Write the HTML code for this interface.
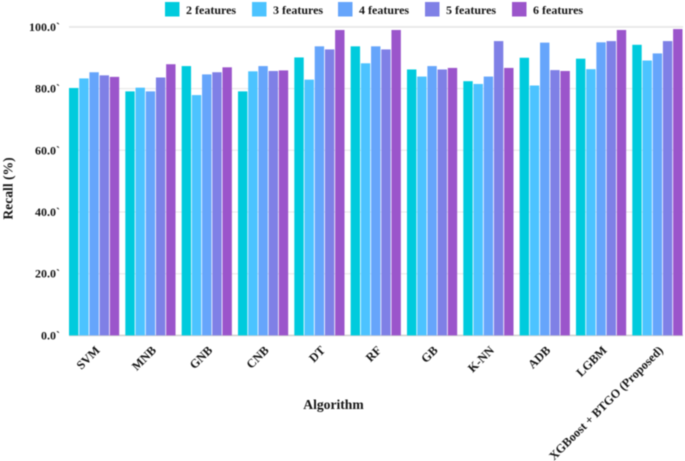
<!DOCTYPE html>
<html>
<head>
<meta charset="utf-8">
<style>
html,body{margin:0;padding:0;background:#fff;width:685px;height:461px;overflow:hidden}
svg{display:block;filter:blur(0.55px)}
text{font-family:"Liberation Serif",serif;font-weight:bold;fill:#141414}
</style>
</head>
<body>
<svg id="chart" width="685" height="461" viewBox="0 0 685 461" xmlns="http://www.w3.org/2000/svg"></svg>
<script>
const categories = ["SVM","MNB","GNB","CNB","DT","RF","GB","K-NN","ADB","LGBM","XGBoost + BTGO (Proposed)"];
const seriesNames = ["2 features","3 features","4 features","5 features","6 features"];
const seriesColors = ["#00cbdd","#4cc3ff","#66a5fb","#7f80e6","#9b55cb"];
const features2 = [80.2,79.1,87.3,79.1,90.1,93.7,86.2,82.4,90.0,89.7,94.2];
const features3 = [83.3,80.3,77.9,85.6,82.9,88.2,83.9,81.5,81.0,86.3,89.1];
const features4 = [85.3,79.1,84.6,87.3,93.7,93.7,87.3,83.9,94.9,95.0,91.4];
const features5 = [84.3,83.6,85.3,85.7,92.7,92.7,86.2,95.4,86.0,95.4,95.4];
const features6 = [83.8,87.9,86.9,85.9,99.0,99.0,86.7,86.7,85.7,99.0,99.3];
const yTicks = [0,20,40,60,80,100];
const yTickLabels = ["0.0`","20.0`","40.0`","60.0`","80.0`","100.0`"];
const series = [features2,features3,features4,features5,features6];

const svg = document.getElementById('chart');
const NS = 'http://www.w3.org/2000/svg';
function make(tag, attrs, text){
  const el = document.createElementNS(NS, tag);
  for (const k in attrs) el.setAttribute(k, attrs[k]);
  if (text !== undefined) el.textContent = text;
  svg.appendChild(el);
  return el;
}
const plotLeft = 69, plotRight = 683, yZero = 335.4, yFull = 26.9;
const groupStep = 56.33, barStep = 10.2;
function yScale(v){ return yZero - (v / 100) * (yZero - yFull); }
function xGroup(i){ return plotLeft + i * groupStep; }

yTicks.forEach(function(t, i){
  const y = yScale(t);
  const grid = make('line', {x1:plotLeft, x2:plotRight, y1:y, y2:y, stroke: i === 0 ? '#d2d2d2' : '#e6e6e6', 'stroke-width': (i === 0 || i === yTicks.length - 1) ? 1.6 : 1});
  
  
  const label = make('text', {x:60, y:y + 4, 'text-anchor':'end', 'font-size':12}, yTickLabels[i]);
  
  
});

series.forEach(function(values, s){
  values.forEach(function(v, i){
    const y = yScale(v);
    const bar = make('rect', {x:xGroup(i) + s * barStep, y:y, width:barStep - 0.8, height:yZero - y, fill:seriesColors[s]});
    
    
  });
});

categories.forEach(function(c, i){
  const cx = xGroup(i) + 2.5 * barStep + 6;
  const label = make('text', {x:cx, y:351, 'text-anchor':'end', 'font-size':12.2, transform:'rotate(-45 ' + cx + ' 351)'}, c);
  
  
});

const legendX = [165,252,338,425,512];
seriesNames.forEach(function(n, s){
  const swatch = make('rect', {x:legendX[s], y:2, width:14.5, height:14.5, fill:seriesColors[s]});
  
  
  const label = make('text', {x:legendX[s] + 21, y:14, 'font-size':12}, n);
  
  
});

const xTitle = make('text', {x:333.5, y:409, 'text-anchor':'middle', 'font-size':13.6}, 'Algorithm');


const yTitle = make('text', {x:12.5, y:188.5, 'text-anchor':'middle', 'font-size':13.6, transform:'rotate(-90 12.5 188.5)'}, 'Recall (%)');


</script>
</body>
</html>
